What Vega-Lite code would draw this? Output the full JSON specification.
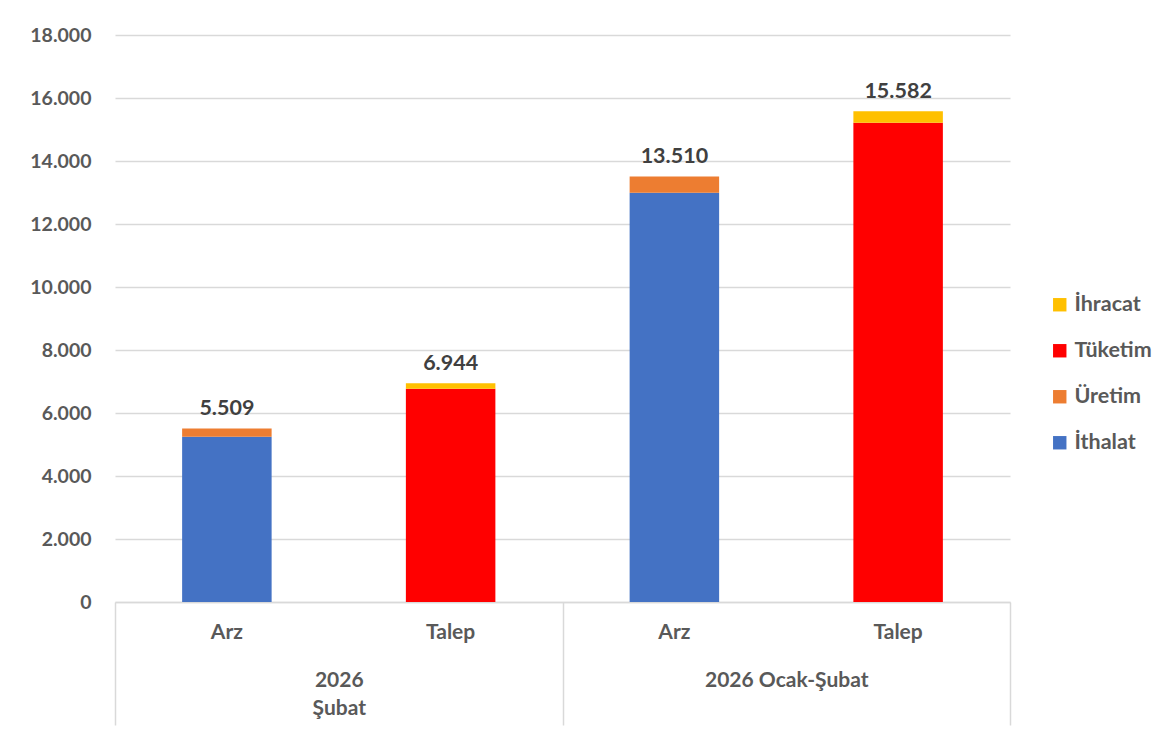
{
  "$schema": "https://vega.github.io/schema/vega-lite/v6.json",
  "width": 895,
  "height": 567,
  "autosize": {"type": "none"},
  "padding": {"left": 115, "top": 35, "right": 166, "bottom": 131},
  "background": "white",
  "config": {
    "locale": {"number": {"decimal": ",", "thousands": ".", "grouping": [3], "currency": ["", ""]}},
    "view": {"stroke": null},
    "font": "Lato"
  },
  "data": {
    "values": [
      {"group": "2026\nŞubat", "cat": "Arz", "series": "İthalat", "value": 5248},
      {"group": "2026\nŞubat", "cat": "Arz", "series": "Üretim", "value": 261},
      {"group": "2026\nŞubat", "cat": "Talep", "series": "Tüketim", "value": 6771},
      {"group": "2026\nŞubat", "cat": "Talep", "series": "İhracat", "value": 173},
      {"group": "2026 Ocak-Şubat", "cat": "Arz", "series": "İthalat", "value": 12994},
      {"group": "2026 Ocak-Şubat", "cat": "Arz", "series": "Üretim", "value": 516},
      {"group": "2026 Ocak-Şubat", "cat": "Talep", "series": "Tüketim", "value": 15216},
      {"group": "2026 Ocak-Şubat", "cat": "Talep", "series": "İhracat", "value": 366}
    ]
  },
  "encoding": {
    "x": {
      "field": "group", "type": "nominal", "sort": null,
      "scale": {"paddingInner": 0, "paddingOuter": 0},
      "axis": {
        "title": null, "labelExpr": "split(datum.label, '\\n')", "labelAngle": 0,
        "tickBand": "extent", "tickSize": 123, "tickColor": "#d9d9d9", "tickWidth": 1.5,
        "domainColor": "#d9d9d9", "domainWidth": 1.5, "labelPadding": -56,
        "labelFontSize": 21, "labelFontWeight": "bold", "labelColor": "#595959",
        "labelLineHeight": 28, "labelBaseline": "top", "labelLimit": 0
      }
    },
    "xOffset": {
      "field": "cat", "type": "nominal", "sort": ["Arz", "Talep"],
      "scale": {"paddingInner": 0.6, "paddingOuter": 0.3}
    }
  },
  "layer": [
    {
      "mark": {"type": "bar"},
      "encoding": {
        "y": {
          "field": "value", "type": "quantitative", "stack": "zero",
          "scale": {"domain": [0, 18000]},
          "axis": {
            "title": null, "values": [0, 2000, 4000, 6000, 8000, 10000, 12000, 14000, 16000, 18000],
            "format": ",d", "domain": false, "ticks": false,
            "gridColor": "#d9d9d9", "gridWidth": 1.5, "labelPadding": 24,
            "labelFontSize": 19.5, "labelFontWeight": "bold", "labelColor": "#595959"
          }
        },
        "color": {
          "field": "series", "type": "nominal",
          "scale": {"domain": ["İhracat", "Tüketim", "Üretim", "İthalat"], "range": ["#FFC000", "#FF0000", "#ED7D31", "#4472C4"]},
          "legend": {
            "orient": "none", "legendX": 934, "legendY": 259, "direction": "vertical",
            "title": null, "symbolType": "square", "symbolSize": 180, "symbolStrokeWidth": 0,
            "labelFontSize": 21.5, "labelFontWeight": "bold", "labelColor": "#595959",
            "rowPadding": 23, "labelOffset": 4, "padding": 0
          }
        },
        "order": {"field": "value", "sort": "descending"}
      }
    },
    {
      "transform": [{"aggregate": [{"op": "sum", "field": "value", "as": "total"}], "groupby": ["group", "cat"]}],
      "mark": {"type": "text", "baseline": "bottom", "dy": -8, "fontSize": 21.5, "fontWeight": "bold", "color": "#404040"},
      "encoding": {
        "y": {"field": "total", "type": "quantitative"},
        "text": {"field": "total", "type": "quantitative", "format": ",d"}
      }
    },
    {
      "transform": [{"aggregate": [{"op": "sum", "field": "value", "as": "total"}], "groupby": ["group", "cat"]}],
      "mark": {"type": "text", "baseline": "middle", "dy": 31, "fontSize": 21, "fontWeight": "bold", "color": "#595959"},
      "encoding": {
        "y": {"datum": 0},
        "text": {"field": "cat", "type": "nominal"}
      }
    }
  ]
}
